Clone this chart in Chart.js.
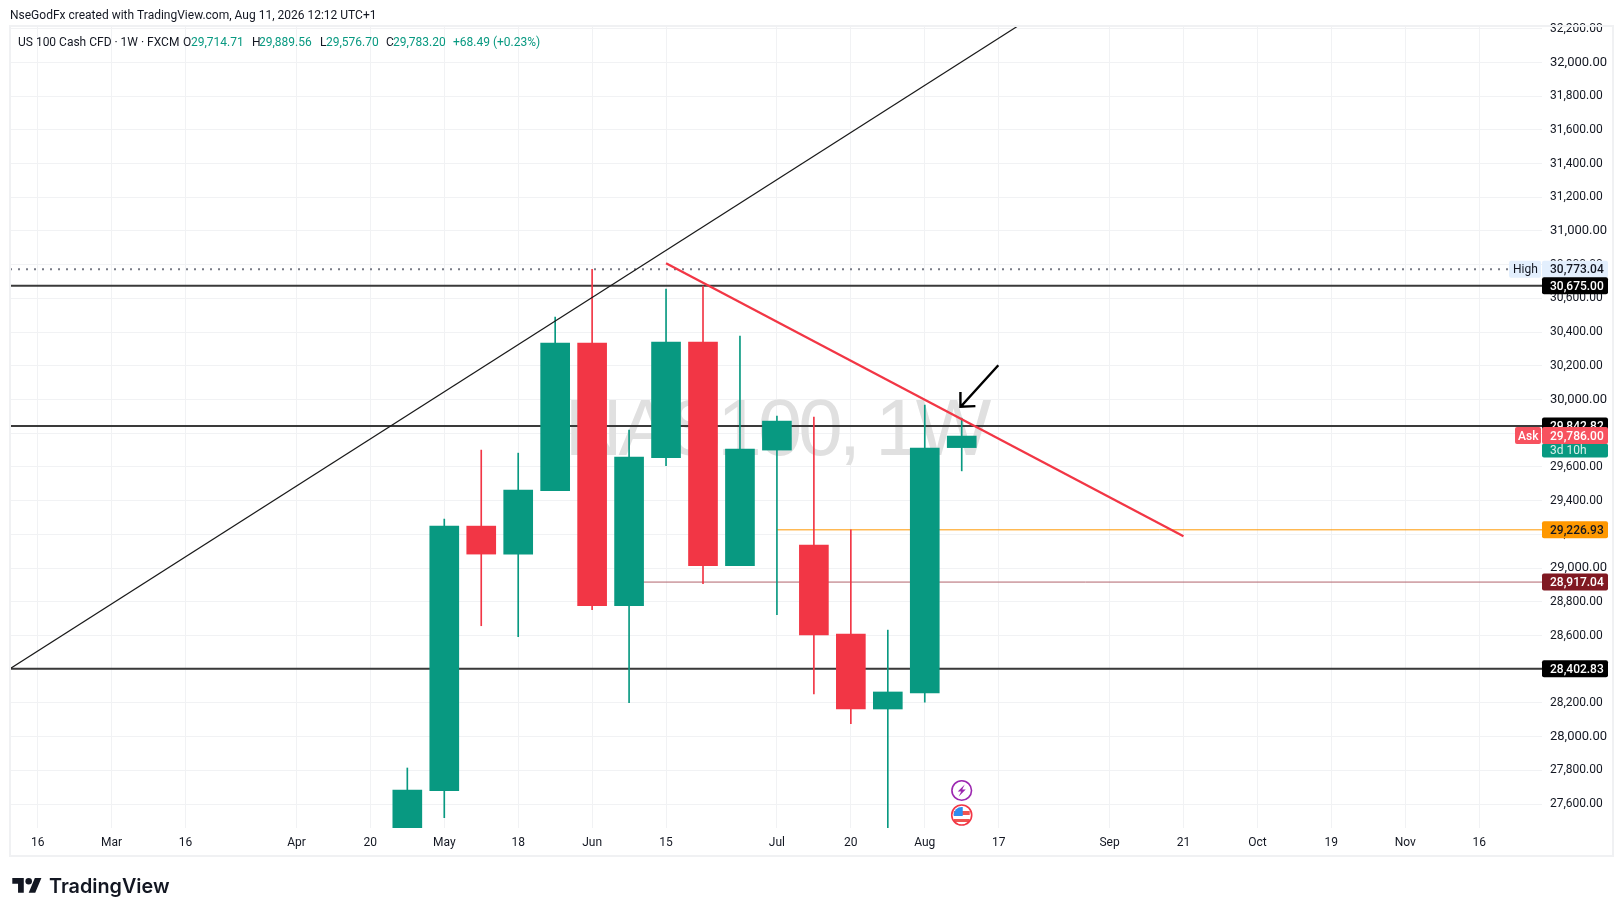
<!DOCTYPE html>
<html>
<head>
<meta charset="utf-8">
<title>US 100 Cash CFD</title>
<script src="https://cdn.jsdelivr.net/npm/chart.js@4/dist/chart.umd.min.js"></script>
<style>
    html, body { margin: 0; padding: 0; background: #fff; }
    #wrap { width: 1623px; height: 916px; position: relative; }
</style>
</head>
<body>
<div id="wrap"><canvas id="chart"></canvas></div>
<script>
// weekly candles, week 0 = Feb 16 2026
const weeks  = [10, 11, 12, 13, 14, 15, 16, 17, 18, 19, 20, 21, 22, 23, 24, 25];
const opens  = [27400, 27679, 29249, 29083, 29459, 30335, 28777, 29655, 30341, 29014, 29700, 29137, 28609, 28164, 28259, 29714.71];
const highs  = [27814, 29291, 29700, 29682, 30489, 30773.04, 29819, 30655, 30673, 30377, 29902, 29896, 29227, 28632, 29967, 29889.56];
const lows   = [27300, 27519, 28658, 28593, 29459, 28753, 28201, 29607, 28907, 29014, 28723, 28253, 28077, 27400, 28205, 29576.70];
const closes = [27683, 29249, 29083, 29463, 30335, 28777, 29659, 30341, 29014, 29706, 29872, 28603, 28164, 28265, 29712, 29783.20];

const tickWeeks  = [0, 2, 4, 7, 9, 11, 13, 15, 17, 20, 22, 24, 26, 29, 31, 33, 35, 37, 39];
const tickLabels = ['16', 'Mar', '16', 'Apr', '20', 'May', '18', 'Jun', '15', 'Jul', '20', 'Aug', '17', 'Sep', '21', 'Oct', '19', 'Nov', '16'];
const priceTicks = [27600, 27800, 28000, 28200, 28400, 28600, 28800, 29000, 29200, 29400, 29600, 29800, 30000, 30200, 30400, 30600, 30800, 31000, 31200, 31400, 31600, 31800, 32000, 32200];

const xMin = -0.75, xMax = 40.70;
const yMin = 27458, yMax = 32216;

const level1 = 30675.00;
const level2 = 29842.82;
const level3 = 28402.83;
const highLevel = 30773.04;
const askLevel = 29786.00;
const orangeLevel = 29226.93;
const maroonLevel = 28917.04;

const blackTrendX = [-0.75, 27.62];
const blackTrendY = [28402.83, 32370];
const redTrendX = [17, 31];
const redTrendY = [30808, 29189];
const arrowX = [25.99, 24.97, 24.96, 24.97, 25.37];
const arrowY = [30203, 29957, 30045, 29957, 29961];

const green = '#089981';
const red = '#f23645';
const gridColor = '#f1f2f4';
const textColor = '#131722';

const upOrDown = weeks.map((w, i) => closes[i] >= opens[i] ? green : red);

function toXY(xs, ys) {
    return xs.map((x, i) => ({ x: x, y: ys[i] }));
}

function levelLine(label, from, to, value, color, width, dash) {
    return {
        type: 'line',
        label: label,
        data: toXY([from, to], [value, value]),
        borderColor: color,
        borderWidth: width,
        borderDash: dash || [],
        pointRadius: 0,
        order: 5
    };
}

function fmt(v) {
    return v.toLocaleString('en-US', { minimumFractionDigits: 2, maximumFractionDigits: 2 });
}

function priceBox(ctx, y, value, bg, fg) {
    ctx.fillStyle = bg;
    ctx.beginPath();
    ctx.roundRect(1542, y - 8.5, 66, 17, 2);
    ctx.fill();
    ctx.fillStyle = fg;
    ctx.font = '500 12px Roboto';
    ctx.textAlign = 'left';
    ctx.textBaseline = 'middle';
    ctx.fillText(value, 1550, y + 1);
}

// watermark sits behind the candles
const watermark = {
    id: 'watermark',
    beforeDatasetsDraw(chart) {
        const ctx = chart.ctx;
        ctx.save();
        ctx.fillStyle = '#e0e0e0';
        ctx.font = '80px "Liberation Sans"';
        ctx.letterSpacing = '-4px';
        ctx.textAlign = 'center';
        ctx.textBaseline = 'alphabetic';
        ctx.fillText('NAS100, 1W', 776, 455);
        ctx.restore();
    }
};

const overlay = {
    id: 'overlay',
    afterDraw(chart) {
        const ctx = chart.ctx;
        const y = chart.scales.y;
        const x = chart.scales.x;
        ctx.save();

        // frame
        ctx.strokeStyle = '#f0f1f3';
        ctx.lineWidth = 2;
        ctx.strokeRect(10, 26, 1603, 830);

        // header and legend
        ctx.textBaseline = 'middle';
        ctx.textAlign = 'left';
        ctx.fillStyle = textColor;
        ctx.font = '12px Roboto';
        ctx.fillText('NseGodFx created with TradingView.com, Aug 11, 2026 12:12 UTC+1', 10, 15.5);

        ctx.fillText('US 100 Cash CFD · 1W · FXCM', 18, 43);
        [['O', 183], ['H', 252], ['L', 320], ['C', 386]].forEach(p => ctx.fillText(p[0], p[1], 43));
        ctx.fillStyle = green;
        [['29,714.71', 191], ['29,889.56', 259], ['29,576.70', 326], ['29,783.20', 393], ['+68.49 (+0.23%)', 453]]
            .forEach(p => ctx.fillText(p[0], p[1], 43));

        // price labels
        const highY = y.getPixelForValue(highLevel);
        ctx.fillStyle = '#e3effd';
        ctx.beginPath();
        ctx.roundRect(1509, highY - 8.5, 32, 17, 2);
        ctx.fill();
        ctx.fillStyle = textColor;
        ctx.font = '12px Roboto';
        ctx.fillText('High', 1513, highY + 1);
        priceBox(ctx, highY, fmt(highLevel), '#e3effd', textColor);

        priceBox(ctx, y.getPixelForValue(level1), fmt(level1), '#000000', '#ffffff');
        priceBox(ctx, y.getPixelForValue(level2), fmt(level2), '#000000', '#ffffff');
        priceBox(ctx, y.getPixelForValue(orangeLevel), fmt(orangeLevel), '#ff9800', textColor);
        priceBox(ctx, y.getPixelForValue(maroonLevel), fmt(maroonLevel), '#801922', '#ffffff');
        priceBox(ctx, y.getPixelForValue(level3), fmt(level3), '#000000', '#ffffff');

        const askY = y.getPixelForValue(askLevel);
        ctx.fillStyle = '#089981';
        ctx.beginPath();
        ctx.roundRect(1542, askY + 8, 66, 14, 2);
        ctx.fill();
        ctx.fillStyle = '#d9f0eb';
        ctx.font = '12px Roboto';
        ctx.fillText('3d 10h', 1550, askY + 15);
        priceBox(ctx, askY, fmt(askLevel), '#f7525f', '#ffffff');
        ctx.fillStyle = '#f7525f';
        ctx.beginPath();
        ctx.roundRect(1515, askY - 8.5, 26, 17, 2);
        ctx.fill();
        ctx.fillStyle = '#ffffff';
        ctx.font = '500 12px Roboto';
        ctx.fillText('Ask', 1518, askY + 1);

        // event icons under the last candle
        const ix = x.getPixelForValue(25);
        ctx.lineWidth = 1.6;
        ctx.strokeStyle = '#9c27b0';
        ctx.beginPath();
        ctx.arc(ix, 790.5, 9.8, 0, Math.PI * 2);
        ctx.fillStyle = '#ffffff';
        ctx.fill();
        ctx.stroke();
        ctx.fillStyle = '#9c27b0';
        ctx.beginPath();
        ctx.moveTo(ix + 3, 784.5);
        ctx.lineTo(ix - 4, 791.5);
        ctx.lineTo(ix - 0.5, 791.5);
        ctx.lineTo(ix - 3, 796.5);
        ctx.lineTo(ix + 4, 789.5);
        ctx.lineTo(ix + 0.5, 789.5);
        ctx.closePath();
        ctx.fill();

        ctx.save();
        ctx.beginPath();
        ctx.arc(ix, 815, 10, 0, Math.PI * 2);
        ctx.fillStyle = '#ffffff';
        ctx.fill();
        ctx.clip();
        ctx.fillStyle = '#ef5350';
        ctx.fillRect(ix - 8, 811, 16, 4);
        ctx.fillRect(ix - 8, 819, 16, 3);
        ctx.fillStyle = '#2d8df0';
        ctx.beginPath();
        ctx.arc(ix, 815, 8, Math.PI, Math.PI * 1.5);
        ctx.lineTo(ix + 1, 807);
        ctx.lineTo(ix + 1, 816);
        ctx.lineTo(ix - 8, 816);
        ctx.closePath();
        ctx.fill();
        ctx.restore();
        ctx.strokeStyle = '#f23645';
        ctx.lineWidth = 1.6;
        ctx.beginPath();
        ctx.arc(ix, 815, 10, 0, Math.PI * 2);
        ctx.stroke();

        // TradingView logo
        ctx.save();
        ctx.translate(12.3, 874.7);
        ctx.scale(0.82, 0.82);
        ctx.fillStyle = textColor;
        ctx.fill(new Path2D('M14 22H7V11H0V4h14v18zM28 22h-8l7.5-18h8L28 22z'));
        ctx.beginPath();
        ctx.arc(20, 8, 4, 0, Math.PI * 2);
        ctx.fill();
        ctx.restore();
        ctx.fillStyle = textColor;
        ctx.font = '600 19.8px Inter';
        ctx.fillText('TradingView', 49, 887);

        ctx.restore();
    }
};

new Chart(document.getElementById('chart'), {
    data: {
        datasets: [{
            type: 'bar',
            label: 'Body',
            data: weeks.map((w, i) => ({ x: w, y: [opens[i], closes[i]] })),
            backgroundColor: upOrDown,
            barThickness: 29,
            grouped: false,
            order: 3
        }, {
            type: 'bar',
            label: 'Wick',
            data: weeks.map((w, i) => ({ x: w, y: [lows[i], highs[i]] })),
            backgroundColor: upOrDown,
            barThickness: 1,
            grouped: false,
            order: 4
        },
        levelLine('30,675.00', xMin, xMax, level1, '#3a3a3a', 2),
        levelLine('29,842.82', xMin, xMax, level2, '#3a3a3a', 2),
        levelLine('28,402.83', xMin, xMax, level3, '#3a3a3a', 2),
        levelLine('High', xMin, 39.79, highLevel, '#787b86', 2, [2, 6]),
        levelLine('29,226.93', 20, xMax, orangeLevel, '#ff9800', 1),
        levelLine('28,917.04', 16, xMax, maroonLevel, '#b2646c', 1),
        {
            type: 'line',
            label: 'Trend up',
            data: toXY(blackTrendX, blackTrendY),
            borderColor: '#1a1a1a',
            borderWidth: 1.2,
            pointRadius: 0,
            order: 2
        }, {
            type: 'line',
            label: 'Trend down',
            data: toXY(redTrendX, redTrendY),
            borderColor: red,
            borderWidth: 2.3,
            pointRadius: 0,
            order: 1
        }, {
            type: 'line',
            label: 'Arrow',
            data: toXY(arrowX, arrowY),
            borderColor: '#000000',
            borderWidth: 2.4,
            pointRadius: 0,
            order: 0
        }]
    },
    options: {
        responsive: true,
        maintainAspectRatio: false,
        animation: false,
        layout: { padding: { left: 10, right: 10, top: 26, bottom: 60 } },
        plugins: { legend: { display: false }, tooltip: { enabled: false } },
        scales: {
            x: {
                type: 'linear',
                min: xMin,
                max: xMax,
                offset: false,
                afterBuildTicks(scale) {
                    scale.ticks = tickWeeks.map(v => ({ value: v }));
                },
                afterFit(scale) { scale.height = 28; },
                grid: { color: gridColor, offset: false, drawTicks: false },
                border: { display: false },
                ticks: {
                    autoSkip: false,
                    maxRotation: 0,
                    padding: 8,
                    color: textColor,
                    font: { family: 'Roboto', size: 12 },
                    callback(value, index) { return tickLabels[index]; }
                }
            },
            y: {
                position: 'right',
                min: yMin,
                max: yMax,
                afterBuildTicks(scale) {
                    scale.ticks = priceTicks.map(v => ({ value: v }));
                },
                afterFit(scale) { scale.width = 71; },
                grid: { color: gridColor, drawTicks: false },
                border: { display: false },
                ticks: {
                    padding: 8,
                    color: textColor,
                    font: ctx => ({ family: 'Roboto', size: ctx.tick && ctx.tick.value % 1000 === 0 ? 13 : 12 }),
                    callback(value) { return fmt(value); }
                }
            }
        }
    },
    plugins: [watermark, overlay]
});
</script>
</body>
</html>
